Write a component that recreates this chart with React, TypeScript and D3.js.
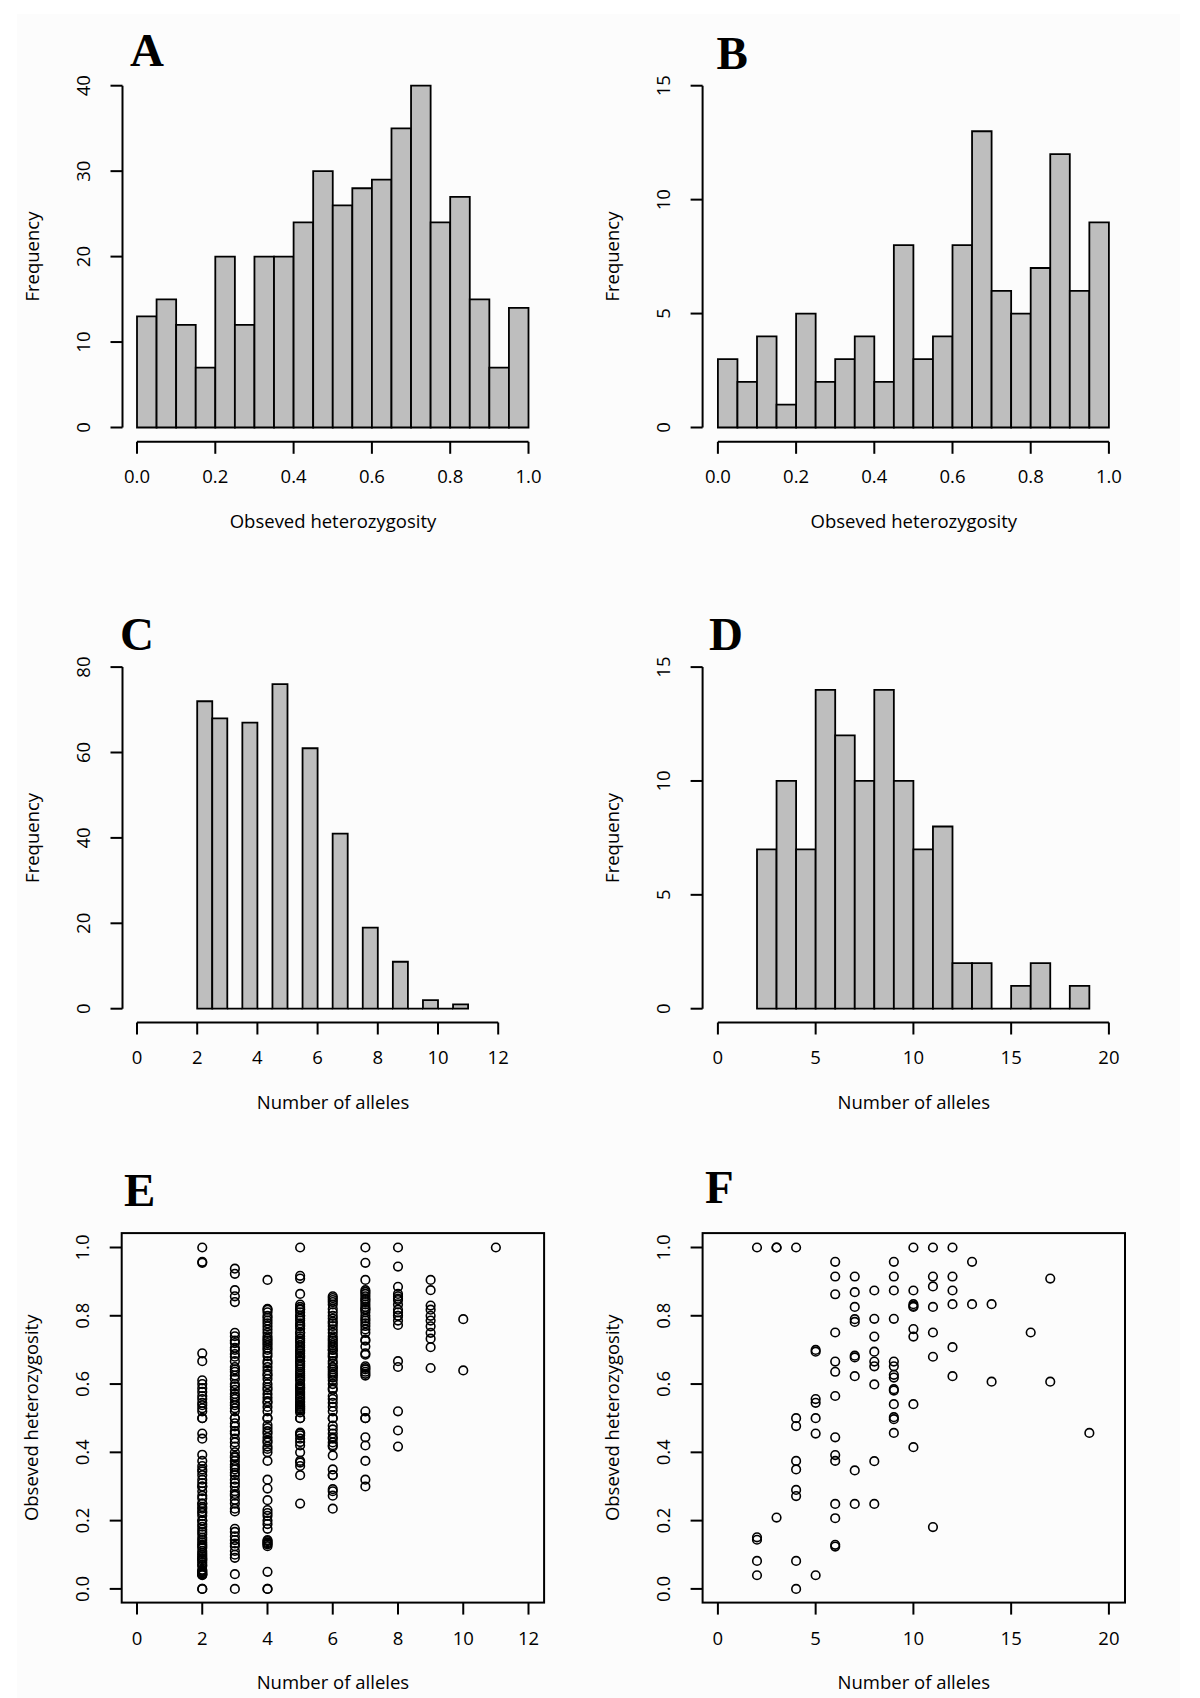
import React from 'react';
import * as d3 from 'd3';

// ---------- DATA ----------
const hoBreaks = [0, 0.05, 0.1, 0.15, 0.2, 0.25, 0.3, 0.35, 0.4, 0.45, 0.5, 0.55, 0.6, 0.65, 0.7, 0.75, 0.8, 0.85, 0.9, 0.95, 1.0];
const histACounts = [13, 15, 12, 7, 20, 12, 20, 20, 24, 30, 26, 28, 29, 35, 40, 24, 27, 15, 7, 14];
const histBCounts = [3, 2, 4, 1, 5, 2, 3, 4, 2, 8, 3, 4, 8, 13, 6, 5, 7, 12, 6, 9];

const allelesCBreaks = [2, 2.5, 3, 3.5, 4, 4.5, 5, 5.5, 6, 6.5, 7, 7.5, 8, 8.5, 9, 9.5, 10, 10.5, 11];
const histCCounts = [72, 68, 0, 67, 0, 76, 0, 61, 0, 41, 0, 19, 0, 11, 0, 2, 0, 1];

const allelesDBreaks = [2, 3, 4, 5, 6, 7, 8, 9, 10, 11, 12, 13, 14, 15, 16, 17, 18, 19];
const histDCounts = [7, 10, 7, 14, 12, 10, 14, 10, 7, 8, 2, 2, 0, 1, 2, 0, 1];

const hoTicks = [0, 0.2, 0.4, 0.6, 0.8, 1.0];
const hoTickLabels = ['0.0', '0.2', '0.4', '0.6', '0.8', '1.0'];
const freqTicksA = [0, 10, 20, 30, 40];
const freqTicksB = [0, 5, 10, 15];
const freqTicksC = [0, 20, 40, 60, 80];
const freqTicksD = [0, 5, 10, 15];
const allelesTicks12 = [0, 2, 4, 6, 8, 10, 12];
const allelesTicks20 = [0, 5, 10, 15, 20];

// Panel E: observed heterozygosity per number of alleles
const eHo2 = [1.0, 0.958, 0.955, 0.69, 0.667, 0.611, 0.6, 0.588, 0.577, 0.565, 0.556, 0.545, 0.538, 0.529, 0.52, 0.5, 0.5, 0.455, 0.44, 0.393, 0.375, 0.36, 0.35, 0.344, 0.333, 0.32, 0.31, 0.3, 0.3, 0.286, 0.273, 0.265, 0.25, 0.25, 0.24, 0.235, 0.227, 0.222, 0.214, 0.2, 0.2, 0.19, 0.182, 0.174, 0.167, 0.16, 0.15, 0.143, 0.136, 0.13, 0.125, 0.12, 0.111, 0.105, 0.1, 0.095, 0.09, 0.087, 0.083, 0.077, 0.071, 0.067, 0.056, 0.053, 0.05, 0.048, 0.045, 0.043, 0.042, 0.04, 0.0, 0.0];
const eHo3 = [0.938, 0.923, 0.875, 0.857, 0.84, 0.75, 0.74, 0.727, 0.72, 0.706, 0.7, 0.688, 0.68, 0.667, 0.65, 0.643, 0.636, 0.625, 0.615, 0.6, 0.593, 0.583, 0.571, 0.563, 0.556, 0.545, 0.538, 0.529, 0.52, 0.5, 0.5, 0.485, 0.476, 0.462, 0.455, 0.44, 0.429, 0.417, 0.4, 0.389, 0.385, 0.375, 0.364, 0.357, 0.35, 0.34, 0.333, 0.32, 0.31, 0.3, 0.286, 0.278, 0.273, 0.261, 0.25, 0.235, 0.227, 0.176, 0.167, 0.154, 0.143, 0.133, 0.125, 0.111, 0.1, 0.091, 0.043, 0.0];
const eHo4 = [0.905, 0.82, 0.818, 0.81, 0.8, 0.794, 0.786, 0.778, 0.769, 0.76, 0.75, 0.74, 0.733, 0.727, 0.72, 0.714, 0.706, 0.7, 0.69, 0.682, 0.667, 0.66, 0.65, 0.64, 0.63, 0.625, 0.615, 0.6, 0.59, 0.583, 0.571, 0.56, 0.55, 0.545, 0.533, 0.52, 0.5, 0.5, 0.48, 0.471, 0.462, 0.455, 0.444, 0.435, 0.429, 0.417, 0.41, 0.4, 0.375, 0.32, 0.294, 0.26, 0.231, 0.222, 0.214, 0.2, 0.19, 0.176, 0.143, 0.14, 0.136, 0.133, 0.13, 0.125, 0.05, 0.0, 0.0];
const eHo5 = [1.0, 0.917, 0.909, 0.864, 0.833, 0.826, 0.82, 0.818, 0.81, 0.8, 0.8, 0.792, 0.786, 0.778, 0.773, 0.769, 0.762, 0.75, 0.75, 0.74, 0.733, 0.727, 0.722, 0.714, 0.708, 0.7, 0.696, 0.69, 0.684, 0.68, 0.676, 0.667, 0.667, 0.66, 0.655, 0.65, 0.643, 0.636, 0.63, 0.625, 0.62, 0.615, 0.61, 0.6, 0.595, 0.591, 0.588, 0.583, 0.577, 0.571, 0.565, 0.56, 0.556, 0.55, 0.545, 0.54, 0.536, 0.533, 0.529, 0.526, 0.522, 0.517, 0.5, 0.5, 0.458, 0.455, 0.45, 0.44, 0.43, 0.42, 0.4, 0.375, 0.37, 0.36, 0.333, 0.25];
const eHo6 = [0.857, 0.852, 0.846, 0.84, 0.833, 0.82, 0.81, 0.8, 0.792, 0.783, 0.778, 0.77, 0.76, 0.75, 0.74, 0.733, 0.727, 0.72, 0.714, 0.708, 0.7, 0.7, 0.69, 0.684, 0.679, 0.667, 0.66, 0.65, 0.65, 0.643, 0.636, 0.63, 0.625, 0.619, 0.611, 0.6, 0.588, 0.583, 0.565, 0.556, 0.545, 0.533, 0.52, 0.5, 0.5, 0.478, 0.467, 0.455, 0.444, 0.44, 0.429, 0.421, 0.417, 0.391, 0.35, 0.333, 0.333, 0.292, 0.286, 0.273, 0.235];
const eHo7 = [1.0, 0.955, 0.905, 0.875, 0.87, 0.864, 0.857, 0.85, 0.846, 0.84, 0.833, 0.826, 0.82, 0.818, 0.81, 0.8, 0.792, 0.786, 0.778, 0.77, 0.76, 0.75, 0.73, 0.727, 0.71, 0.69, 0.686, 0.652, 0.647, 0.643, 0.636, 0.63, 0.625, 0.52, 0.5, 0.5, 0.444, 0.42, 0.375, 0.32, 0.3];
const eHo8 = [1.0, 0.944, 0.885, 0.864, 0.857, 0.85, 0.846, 0.833, 0.818, 0.81, 0.8, 0.8, 0.786, 0.773, 0.667, 0.65, 0.52, 0.464, 0.417];
const eHo9 = [0.905, 0.875, 0.83, 0.818, 0.8, 0.786, 0.769, 0.75, 0.733, 0.708, 0.647];
const eHo10 = [0.79, 0.64];
const eHo11 = [1.0];

// Panel F
const fHo2 = [1.0, 0.151, 0.144, 0.082, 0.04];
const fHo3 = [1.0, 1.0, 0.209];
const fHo4 = [1.0, 0.5, 0.477, 0.375, 0.35, 0.29, 0.272, 0.082, 0.0];
const fHo5 = [0.7, 0.695, 0.556, 0.545, 0.5, 0.455, 0.04];
const fHo6 = [0.958, 0.915, 0.863, 0.751, 0.666, 0.636, 0.565, 0.444, 0.392, 0.375, 0.249, 0.207, 0.129, 0.124];
const fHo7 = [0.915, 0.869, 0.826, 0.79, 0.782, 0.683, 0.678, 0.623, 0.347, 0.249];
const fHo8 = [0.874, 0.791, 0.739, 0.695, 0.666, 0.652, 0.599, 0.374, 0.249];
const fHo9 = [0.958, 0.915, 0.874, 0.791, 0.666, 0.652, 0.627, 0.619, 0.585, 0.581, 0.541, 0.503, 0.497, 0.457];
const fHo10 = [1.0, 0.874, 0.834, 0.829, 0.826, 0.761, 0.739, 0.541, 0.415];
const fHo11 = [1.0, 0.915, 0.886, 0.826, 0.751, 0.68, 0.181];
const fHo12 = [1.0, 0.915, 0.874, 0.834, 0.708, 0.623];
const fHo13 = [0.958, 0.834];
const fHo14 = [0.834, 0.607];
const fHo16 = [0.751];
const fHo17 = [0.909, 0.607];
const fHo19 = [0.457];

const eColumns: [number, number[]][] = [[2, eHo2], [3, eHo3], [4, eHo4], [5, eHo5], [6, eHo6], [7, eHo7], [8, eHo8], [9, eHo9], [10, eHo10], [11, eHo11]];
const fColumns: [number, number[]][] = [[2, fHo2], [3, fHo3], [4, fHo4], [5, fHo5], [6, fHo6], [7, fHo7], [8, fHo8], [9, fHo9], [10, fHo10], [11, fHo11], [12, fHo12], [13, fHo13], [14, fHo14], [16, fHo16], [17, fHo17], [19, fHo19]];

// ---------- STYLE ----------
const SANS = "'Open Sans', 'Noto Sans', sans-serif";
const SERIF = "'Liberation Serif', 'DejaVu Serif', serif";
const FS = 18.5;
const BAR_FILL = '#bebebe';
const TICK = 12;

type HistProps = {
  letter: string; letterX: number; letterY: number;
  axisX: number; regionRight: number;
  xDomain: [number, number]; xRange: [number, number];
  yMax: number; yZeroPx: number; yMaxPx: number; xAxisY: number;
  breaks: number[]; counts: number[];
  xTicks: number[]; xTickLabels: string[];
  yTicks: number[]; xLabel: string; yLabel: string;
  regionTop: number; regionBottom: number;
};

function Hist(p: HistProps) {
  const x = d3.scaleLinear().domain(p.xDomain).range(p.xRange);
  const y = d3.scaleLinear().domain([0, p.yMax]).range([p.yZeroPx, p.yMaxPx]);
  const cx = (p.axisX + p.regionRight) / 2;
  const cy = (p.regionTop + p.regionBottom) / 2;
  const xt0 = x(p.xTicks[0]);
  const xt1 = x(p.xTicks[p.xTicks.length - 1]);
  return (
    <g>
      <text x={p.letterX} y={p.letterY} fontFamily={SERIF} fontWeight="bold" fontSize={47}>{p.letter}</text>
      {p.counts.map((c, i) => {
        const x0 = x(p.breaks[i]);
        const x1 = x(p.breaks[i + 1]);
        const y0 = y(0);
        const y1 = y(c);
        return <path key={i} d={`M${x0},${y0}V${y1}H${x1}V${y0}Z`} fill={BAR_FILL} stroke="#000" strokeWidth={1.8} />;
      })}
      {/* y axis */}
      <line x1={p.axisX} x2={p.axisX} y1={y(p.yTicks[0])} y2={y(p.yTicks[p.yTicks.length - 1])} stroke="#000" strokeWidth={2} />
      {p.yTicks.map((t) => (
        <g key={t}>
          <line x1={p.axisX - TICK} x2={p.axisX} y1={y(t)} y2={y(t)} stroke="#000" strokeWidth={2} />
          <text transform={`translate(${p.axisX - 32.5},${y(t)}) rotate(-90)`} textAnchor="middle" fontFamily={SANS} fontSize={FS}>{String(t)}</text>
        </g>
      ))}
      {/* x axis */}
      <line x1={xt0} x2={xt1} y1={p.xAxisY} y2={p.xAxisY} stroke="#000" strokeWidth={2} />
      {p.xTicks.map((t, i) => (
        <g key={t}>
          <line x1={x(t)} x2={x(t)} y1={p.xAxisY} y2={p.xAxisY + TICK} stroke="#000" strokeWidth={2} />
          <text x={x(t)} y={p.xAxisY + 41.5} textAnchor="middle" fontFamily={SANS} fontSize={FS}>{p.xTickLabels[i]}</text>
        </g>
      ))}
      <text x={cx} y={p.xAxisY + 86.5} textAnchor="middle" fontFamily={SANS} fontSize={FS}>{p.xLabel}</text>
      <text transform={`translate(${p.axisX - 84},${cy}) rotate(-90)`} textAnchor="middle" fontFamily={SANS} fontSize={FS}>{p.yLabel}</text>
    </g>
  );
}

type ScatterProps = {
  letter: string; letterX: number; letterY: number;
  boxLeft: number; boxRight: number; boxTop: number; boxBottom: number;
  xDomain: [number, number]; xRange: [number, number];
  yZeroPx: number; yOnePx: number;
  columns: [number, number[]][];
  xTicks: number[];
};

function Scatter(p: ScatterProps) {
  const x = d3.scaleLinear().domain(p.xDomain).range(p.xRange);
  const y = d3.scaleLinear().domain([0, 1]).range([p.yZeroPx, p.yOnePx]);
  const cx = (p.boxLeft + p.boxRight) / 2;
  const cy = (p.boxTop + p.boxBottom) / 2;
  const pts: { n: number; h: number }[] = [];
  p.columns.forEach(([n, hs]) => hs.forEach((h) => pts.push({ n, h })));
  return (
    <g>
      <text x={p.letterX} y={p.letterY} fontFamily={SERIF} fontWeight="bold" fontSize={47}>{p.letter}</text>
      {pts.map((d, i) => (
        <circle key={i} cx={x(d.n)} cy={y(d.h)} r={4.3} fill="none" stroke="#000" strokeWidth={1.6} />
      ))}
      <rect x={p.boxLeft} y={p.boxTop} width={p.boxRight - p.boxLeft} height={p.boxBottom - p.boxTop} fill="none" stroke="#000" strokeWidth={2} />
      {hoTicks.map((t, i) => (
        <g key={t}>
          <line x1={p.boxLeft - TICK} x2={p.boxLeft} y1={y(t)} y2={y(t)} stroke="#000" strokeWidth={2} />
          <text transform={`translate(${p.boxLeft - 32.5},${y(t)}) rotate(-90)`} textAnchor="middle" fontFamily={SANS} fontSize={FS}>{hoTickLabels[i]}</text>
        </g>
      ))}
      {p.xTicks.map((t) => (
        <g key={t}>
          <line x1={x(t)} x2={x(t)} y1={p.boxBottom} y2={p.boxBottom + TICK} stroke="#000" strokeWidth={2} />
          <text x={x(t)} y={p.boxBottom + 42} textAnchor="middle" fontFamily={SANS} fontSize={FS}>{String(t)}</text>
        </g>
      ))}
      <text x={cx} y={p.boxBottom + 86} textAnchor="middle" fontFamily={SANS} fontSize={FS}>Number of alleles</text>
      <text transform={`translate(${p.boxLeft - 84},${cy}) rotate(-90)`} textAnchor="middle" fontFamily={SANS} fontSize={FS}>Obseved heterozygosity</text>
    </g>
  );
}

export default function App() {
  const L = { axisX: 122.5, right: 543.5 };
  const R = { axisX: 702.6, right: 1125 };
  return (
    <svg width={1200} height={1698} viewBox="0 0 1200 1698" style={{ position: 'absolute', left: 0, top: 0, background: '#fff' }}>
      <rect x={0} y={0} width={1200} height={1698} fill="#ffffff" />
      <rect x={17} y={14} width={1163} height={1684} fill="#fcfcfc" />
      <Hist letter="A" letterX={130} letterY={66} axisX={L.axisX} regionRight={L.right}
        xDomain={[0, 1]} xRange={[137, 528.5]} yMax={40} yZeroPx={427.5} yMaxPx={85.7} xAxisY={441.8}
        breaks={hoBreaks} counts={histACounts} xTicks={hoTicks} xTickLabels={hoTickLabels}
        yTicks={freqTicksA} xLabel="Obseved heterozygosity" yLabel="Frequency" regionTop={72} regionBottom={441.2} />
      <Hist letter="B" letterX={716.5} letterY={69} axisX={R.axisX} regionRight={R.right}
        xDomain={[0, 1]} xRange={[717.9, 1108.9]} yMax={15} yZeroPx={427.5} yMaxPx={85.7} xAxisY={441.8}
        breaks={hoBreaks} counts={histBCounts} xTicks={hoTicks} xTickLabels={hoTickLabels}
        yTicks={freqTicksB} xLabel="Obseved heterozygosity" yLabel="Frequency" regionTop={72} regionBottom={441.2} />
      <Hist letter="C" letterX={120} letterY={650} axisX={L.axisX} regionRight={L.right}
        xDomain={[0, 12]} xRange={[137, 498.2]} yMax={80} yZeroPx={1008.7} yMaxPx={667.1} xAxisY={1022.5}
        breaks={allelesCBreaks} counts={histCCounts} xTicks={allelesTicks12} xTickLabels={allelesTicks12.map(String)}
        yTicks={freqTicksC} xLabel="Number of alleles" yLabel="Frequency" regionTop={653.4} regionBottom={1022.4} />
      <Hist letter="D" letterX={709} letterY={650} axisX={R.axisX} regionRight={R.right}
        xDomain={[0, 20]} xRange={[717.9, 1108.9]} yMax={15} yZeroPx={1008.7} yMaxPx={667.1} xAxisY={1022.5}
        breaks={allelesDBreaks} counts={histDCounts} xTicks={allelesTicks20} xTickLabels={allelesTicks20.map(String)}
        yTicks={freqTicksD} xLabel="Number of alleles" yLabel="Frequency" regionTop={653.4} regionBottom={1022.4} />
      <Scatter letter="E" letterX={124} letterY={1206} boxLeft={121.7} boxRight={544.1} boxTop={1233.1} boxBottom={1602.6}
        xDomain={[0, 12]} xRange={[137, 528.5]} yZeroPx={1588.9} yOnePx={1247.5} columns={eColumns} xTicks={allelesTicks12} />
      <Scatter letter="F" letterX={705} letterY={1203} boxLeft={702.6} boxRight={1125} boxTop={1233.1} boxBottom={1602.6}
        xDomain={[0, 20]} xRange={[717.9, 1108.9]} yZeroPx={1588.9} yOnePx={1247.5} columns={fColumns} xTicks={allelesTicks20} />
    </svg>
  );
}
